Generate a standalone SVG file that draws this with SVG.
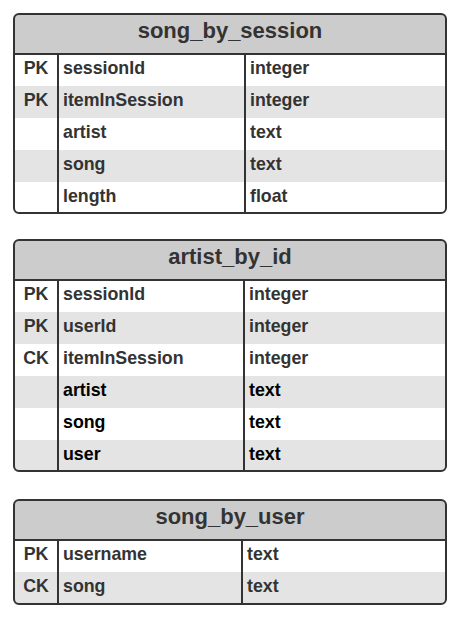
<svg xmlns="http://www.w3.org/2000/svg" width="461" height="618" viewBox="0 0 461 618">
<style>
.hdr{fill:#cccccc}
.odd{fill:#ffffff}
.even{fill:#e4e4e4}
.frame{fill:none;stroke:#333333;stroke-width:2}
.line{stroke:#333333;stroke-width:2}
text{font-family:"Liberation Sans",Arial,sans-serif;font-weight:bold;fill:#333333}
.title{font-size:22px;text-anchor:middle}
.cell{font-size:17.8px}
.key{font-size:17.8px;text-anchor:middle}
.blk{fill:#000000}
</style>
<defs>
<clipPath id="c1"><rect x="14" y="14" width="432" height="199" rx="5"/></clipPath>
<clipPath id="c2"><rect x="14" y="240" width="432" height="231" rx="5"/></clipPath>
<clipPath id="c3"><rect x="14" y="500" width="432" height="104" rx="5"/></clipPath>
</defs>

<g id="song_by_session">
<g clip-path="url(#c1)">
<rect class="hdr" x="14" y="14" width="432" height="40"/>
<rect class="odd" x="14" y="54" width="432" height="32"/>
<rect class="even" x="14" y="86" width="432" height="32"/>
<rect class="odd" x="14" y="118" width="432" height="32"/>
<rect class="even" x="14" y="150" width="432" height="32"/>
<rect class="odd" x="14" y="182" width="432" height="32"/>
</g>
<line class="line" x1="14" y1="54" x2="446" y2="54"/>
<line class="line" x1="58" y1="54" x2="58" y2="213"/>
<line class="line" x1="245" y1="54" x2="245" y2="213"/>
<rect class="frame" x="14" y="14" width="432" height="199" rx="5"/>
<text class="title" x="230" y="38">song_by_session</text>
<text class="key" x="36" y="74">PK</text>
<text class="key" x="36" y="106">PK</text>
<text class="cell" x="63" y="74">sessionId</text>
<text class="cell" x="63" y="106">itemInSession</text>
<text class="cell" x="63" y="138">artist</text>
<text class="cell" x="63" y="170">song</text>
<text class="cell" x="63" y="202">length</text>
<text class="cell" x="250" y="74">integer</text>
<text class="cell" x="250" y="106">integer</text>
<text class="cell" x="250" y="138">text</text>
<text class="cell" x="250" y="170">text</text>
<text class="cell" x="250" y="202">float</text>
</g>

<g id="artist_by_id">
<g clip-path="url(#c2)">
<rect class="hdr" x="14" y="240" width="432" height="40"/>
<rect class="odd" x="14" y="280" width="432" height="32"/>
<rect class="even" x="14" y="312" width="432" height="32"/>
<rect class="odd" x="14" y="344" width="432" height="32"/>
<rect class="even" x="14" y="376" width="432" height="32"/>
<rect class="odd" x="14" y="408" width="432" height="32"/>
<rect class="even" x="14" y="440" width="432" height="32"/>
</g>
<line class="line" x1="14" y1="280" x2="446" y2="280"/>
<line class="line" x1="58" y1="280" x2="58" y2="471"/>
<line class="line" x1="244" y1="280" x2="244" y2="471"/>
<rect class="frame" x="14" y="240" width="432" height="231" rx="5"/>
<text class="title" x="230" y="264">artist_by_id</text>
<text class="key" x="36" y="300">PK</text>
<text class="key" x="36" y="332">PK</text>
<text class="key" x="36" y="364">CK</text>
<text class="cell" x="63" y="300">sessionId</text>
<text class="cell" x="63" y="332">userId</text>
<text class="cell" x="63" y="364">itemInSession</text>
<text class="cell blk" x="63" y="396">artist</text>
<text class="cell blk" x="63" y="428">song</text>
<text class="cell blk" x="63" y="460">user</text>
<text class="cell" x="249" y="300">integer</text>
<text class="cell" x="249" y="332">integer</text>
<text class="cell" x="249" y="364">integer</text>
<text class="cell blk" x="249" y="396">text</text>
<text class="cell blk" x="249" y="428">text</text>
<text class="cell blk" x="249" y="460">text</text>
</g>

<g id="song_by_user">
<g clip-path="url(#c3)">
<rect class="hdr" x="14" y="500" width="432" height="40"/>
<rect class="odd" x="14" y="540" width="432" height="32"/>
<rect class="even" x="14" y="572" width="432" height="32"/>
</g>
<line class="line" x1="14" y1="540" x2="446" y2="540"/>
<line class="line" x1="58" y1="540" x2="58" y2="604"/>
<line class="line" x1="242" y1="540" x2="242" y2="604"/>
<rect class="frame" x="14" y="500" width="432" height="104" rx="5"/>
<text class="title" x="230" y="524">song_by_user</text>
<text class="key" x="36" y="560">PK</text>
<text class="key" x="36" y="592">CK</text>
<text class="cell" x="63" y="560">username</text>
<text class="cell" x="63" y="592">song</text>
<text class="cell" x="247" y="560">text</text>
<text class="cell" x="247" y="592">text</text>
</g>

<g id="connectors"></g>
</svg>
